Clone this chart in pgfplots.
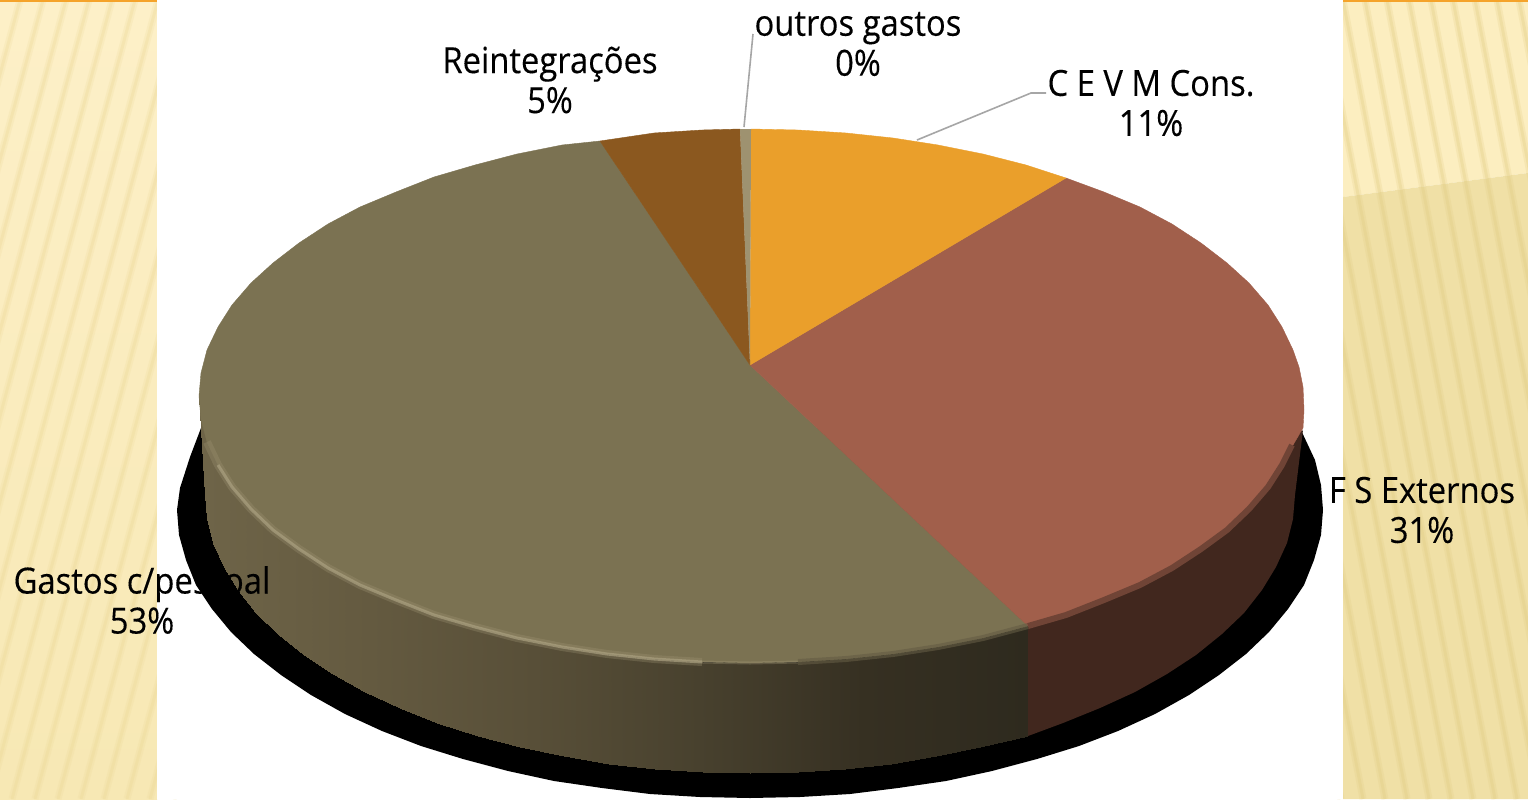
\documentclass[border=0pt]{standalone}
\usepackage{pgfplots}
\usepackage{fontspec}
\pgfplotsset{compat=1.18}
\setmainfont[FakeStretch=0.91,FakeBold=0.25]{Open Sans}

\definecolor{orangeslice}{HTML}{EA9F2B}
\definecolor{brownslice}{HTML}{A15F4B}
\definecolor{oliveslice}{HTML}{7B7252}
\definecolor{reintslice}{HTML}{8B581F}
\definecolor{outrosslice}{HTML}{9E9270}
\definecolor{brownside}{HTML}{41271E}
\definecolor{leader}{HTML}{A6A6A6}
\definecolor{paneltop}{HTML}{FDF0C8}
\definecolor{panelbottom}{HTML}{F7E8B4}

% background stripes, x y in reference pixels
\pgfplotstableread{
x y
20 0
-195 799
nan nan
43 0
-172 799
nan nan
66 0
-149 799
nan nan
89 0
-126 799
nan nan
112 0
-103 799
nan nan
135 0
-80 799
nan nan
158 0
-57 799
nan nan
181 0
-34 799
nan nan
204 0
-11 799
nan nan
227 0
12 799
nan nan
250 0
35 799
nan nan
273 0
58 799
nan nan
296 0
81 799
nan nan
319 0
104 799
nan nan
342 0
127 799
nan nan
365 0
150 799
nan nan
388 0
173 799
}\leftstripes

\pgfplotstableread{
x y
1189 0
1341 799
nan nan
1211 0
1363 799
nan nan
1233 0
1385 799
nan nan
1255 0
1407 799
nan nan
1277 0
1429 799
nan nan
1299 0
1451 799
nan nan
1321 0
1473 799
nan nan
1343 0
1495 799
nan nan
1365 0
1517 799
nan nan
1387 0
1539 799
nan nan
1409 0
1561 799
nan nan
1431 0
1583 799
nan nan
1453 0
1605 799
nan nan
1475 0
1627 799
nan nan
1497 0
1649 799
nan nan
1519 0
1671 799
}\rightstripes

% side wall of the big slice: upper edge, then lower edge
\pgfplotstableread{
x y
199 396
201 419
207 442
218 465
232 487
251 509
273 530
299 549
328 568
360 585
396 600
434 615
475 627
517 638
562 647
607 654
654 659
702 662
750 663
798 662
846 659
893 654
938 647
983 638
1028 626
205 495
207 519
213 543
224 567
238 590
256 613
278 634
304 655
333 674
365 692
400 708
437 723
478 736
520 747
564 756
609 764
655 769
703 772
750 773
798 772
845 769
891 764
936 756
980 747
1028 736
}\oliveside

\begin{document}
\begin{tikzpicture}
\begin{axis}[
    scale only axis,
    width=764pt,
    height=399.5pt,
    xmin=0, xmax=1528,
    ymin=0, ymax=799,
    y dir=reverse,
    hide axis,
    unbounded coords=jump,
    colormap={sidecm}{rgb255=(110,100,72) rgb255=(100,90,64) rgb255=(88,79,56) rgb255=(72,65,46) rgb255=(54,48,34) rgb255=(46,42,30)},
]
% side panels
\addplot[draw=none, top color=paneltop, bottom color=panelbottom, shading=axis] coordinates {(0,0) (157,0) (157,799) (0,799)} --cycle;
\addplot[draw=none, fill={rgb,255:red,252;green,238;blue,192}] coordinates {(1343,0) (1528,0) (1528,173) (1343,197)} --cycle;
\addplot[draw=none, fill={rgb,255:red,240;green,224;blue,166}] coordinates {(1343,197) (1528,173) (1528,799) (1343,799)} --cycle;
\addplot[draw={rgb,255:red,236;green,216;blue,150}, opacity=.2, line width=3.5pt] table {\leftstripes};
\addplot[draw={rgb,255:red,236;green,216;blue,150}, opacity=.3, line width=1.5pt] table {\leftstripes};
\addplot[draw={rgb,255:red,226;green,204;blue,130}, opacity=.22, line width=3.5pt] table {\rightstripes};
\addplot[draw={rgb,255:red,226;green,204;blue,130}, opacity=.3, line width=1.5pt] table {\rightstripes};
% white middle and orange top line
\addplot[draw=none, fill=white] coordinates {(157,0) (1343,0) (1343,799) (157,799)} --cycle;
\addplot[draw=none, fill={rgb,255:red,245;green,163;blue,42}] coordinates {(0,0) (157,0) (157,1.5) (0,1.5)} --cycle;
\addplot[draw=none, fill={rgb,255:red,245;green,163;blue,42}] coordinates {(1343,0) (1528,0) (1528,1.5) (1343,1.5)} --cycle;

% shadow
\addplot[draw=none, fill=black] coordinates {
(201,428) (190,457) (180,488) (177,510) (179,535) (186,560) (196,585) (212,609) (231,632) (254,654)
(281,675) (311,695) (345,714) (382,731) (421,746) (463,759) (508,771) (554,781) (602,788) (650,794)
(700,797) (750,798) (800,797) (850,794) (898,788) (946,781) (992,771) (1037,759) (1079,746) (1118,731)
(1155,714) (1189,695) (1219,675) (1246,654) (1269,632) (1288,609) (1304,585) (1314,560) (1321,535)
(1323,510) (1321,485) (1315,460) (1300,428)} --cycle;

% side walls
\addplot[surf, shader=interp, mesh/rows=2, point meta=x, point meta min=205, point meta max=1028] table {\oliveside};
\addplot[draw=none, fill=brownside] coordinates {
(1028,626) (1066,615) (1104,600) (1140,585) (1172,568) (1201,549) (1227,530) (1249,509) (1268,487)
(1282,465) (1293,442) (1303,430)
(1295,495) (1293,519) (1287,543) (1276,567) (1262,590) (1244,613) (1222,634) (1196,655) (1167,674)
(1135,692) (1100,708) (1063,723) (1028,736)} --cycle;

% top of the pie
\addplot[draw=oliveslice, line width=.2pt, fill=oliveslice] coordinates {
(750,365) (1028,626) (983,638) (938,647) (893,654) (846,659) (798,662) (750,663) (702,662) (654,659)
(607,654) (562,647) (517,638) (475,627) (434,615) (396,600) (360,585) (328,568) (299,549) (273,530)
(251,509) (232,487) (218,465) (207,442) (201,419) (199,396) (201,373) (207,350) (218,327) (232,305)
(251,283) (273,263) (299,243) (328,224) (360,207) (396,192) (434,177) (475,165) (517,154) (562,145)
(600,141)} --cycle;
\addplot[draw=brownslice, line width=.2pt, fill=brownslice] coordinates {
(750,365) (1066,178) (1104,192) (1140,207) (1172,224) (1201,243) (1227,263) (1249,283) (1268,305)
(1282,327) (1293,350) (1299,367) (1303,387) (1304,410) (1303,428) (1293,445) (1282,465) (1268,487) (1249,509)
(1227,530) (1201,549) (1172,568) (1140,585) (1104,600) (1066,615) (1028,626)} --cycle;
\addplot[draw=orangeslice, line width=.2pt, fill=orangeslice] coordinates {
(750,365) (751,129) (798,130) (846,133) (893,138) (938,145) (983,154) (1026,165) (1066,178)} --cycle;
\addplot[draw=reintslice, line width=.2pt, fill=reintslice] coordinates {
(750,365) (600,141) (654,133) (702,130) (740,129)} --cycle;
\addplot[draw=none, fill=outrosslice] coordinates {(750,365) (740,129) (751,129)} --cycle;

% bevel along the rim
\addplot[draw={rgb,255:red,160;green,150;blue,118}, opacity=.3, line width=4pt] coordinates {
(207,442) (218,465) (232,487) (251,509) (273,530) (299,549) (328,568) (360,585)
(396,600) (434,615) (475,627) (517,638) (562,647) (607,654) (654,659) (702,662)};
\addplot[draw={rgb,255:red,170;green,160;blue,128}, opacity=.7, line width=1.5pt] coordinates {
(218,465) (232,487) (251,509) (273,530) (299,549) (328,568) (360,585)
(396,600) (434,615) (475,627) (517,638) (562,647) (607,654) (654,659) (702,662)};
\addplot[draw={rgb,255:red,170;green,160;blue,128}, opacity=.3, line width=1.5pt] coordinates {
(702,662) (750,663) (798,662)};
\addplot[draw={rgb,255:red,100;green,92;blue,68}, opacity=.6, line width=3pt] coordinates {
(798,662) (846,659) (893,654) (938,647) (983,638) (1028,626)};
\addplot[draw={rgb,255:red,112;green,68;blue,54}, line width=3pt] coordinates {
(1028,626) (1066,615) (1104,600) (1140,585) (1172,568) (1201,549) (1227,530) (1249,509) (1268,487)
(1282,465) (1292,445)};

% leader lines
\addplot[draw=leader, line width=.8pt] coordinates {(744,127) (753,34)};
\addplot[draw=leader, line width=.8pt] coordinates {(917,140) (1031,93) (1046,93)};

% labels
\tikzset{lab/.style={align=center, inner sep=0pt, font=\fontsize{18}{20}\selectfont, text=black}}
\node[lab] at (axis cs:858,44) {outros gastos\\0\%};
\node[lab] at (axis cs:550,80) {Reintegrações\\5\%};
\node[lab] at (axis cs:1151,103) {C E V M Cons.\\11\%};
\node[lab] at (axis cs:1422,510) {F S Externos\\31\%};
\node[lab] at (axis cs:142,600) {Gastos c/pessoal\\53\%};
\end{axis}
\end{tikzpicture}
\end{document}
